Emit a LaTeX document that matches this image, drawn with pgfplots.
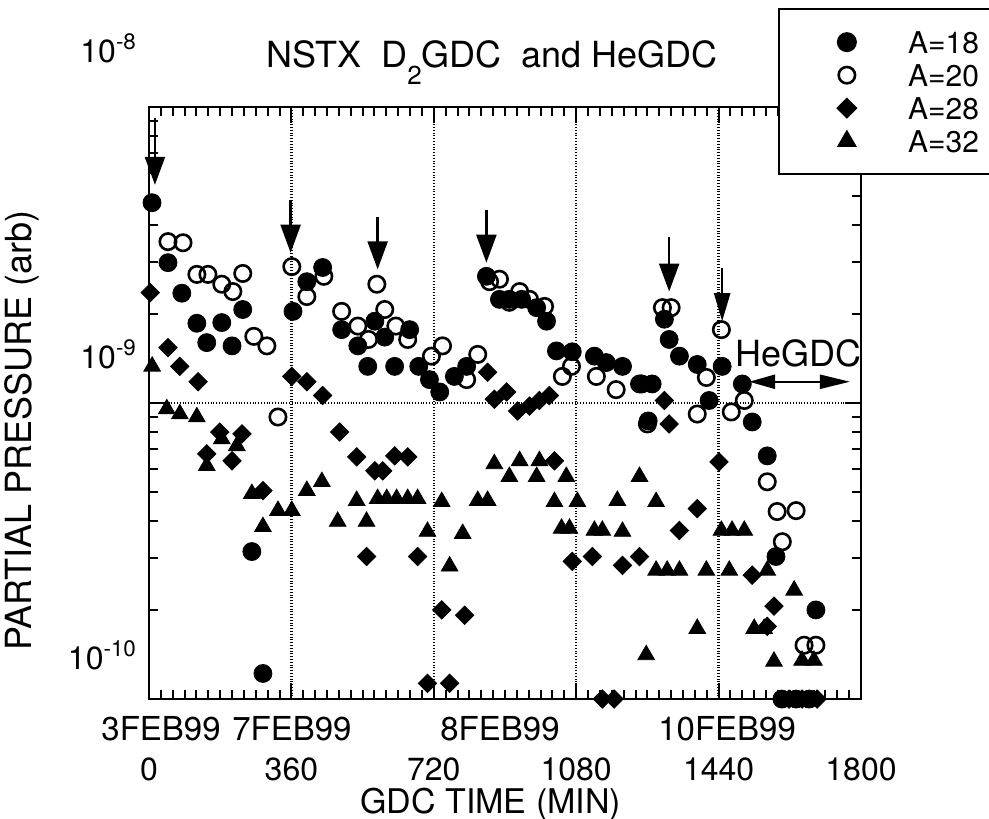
\documentclass[border=0pt]{standalone}
\usepackage{fontspec}
\setmainfont{TeX Gyre Heros}
\usepackage{pgfplots}
\usepackage{pgfplotstable}
\pgfplotsset{compat=1.18}
\usetikzlibrary{arrows.meta}

% A=18, filled circles
\pgfplotstableread{
x y
7.6 4.75e-9
48 2.98e-9
83 2.35e-9
121 1.86e-9
146 1.60e-9
184 1.87e-9
210 1.56e-9
237 2.07e-9
260 3.15e-10
288 1.22e-10
364 2.04e-9
399 2.57e-9
439 2.87e-9
487 1.77e-9
528 1.56e-9
553 1.33e-9
571 1.89e-9
596 1.67e-9
621 1.33e-9
659 1.77e-9
682 1.33e-9
709 1.20e-9
735 1.09e-9
772 1.23e-9
803 1.33e-9
853 2.68e-9
886 2.24e-9
911 2.24e-9
942 2.24e-9
980 2.10e-9
1005 1.89e-9
1030 1.50e-9
1070 1.49e-9
1126 1.44e-9
1156 1.37e-9
1197 1.33e-9
1240 1.16e-9
1272 1.16e-9
1262 8.7e-10
1303 1.92e-9
1315 1.64e-9
1341 1.44e-9
1386 1.35e-9
1416 1.02e-9
1449 1.33e-9
1500 1.16e-9
1525 8.63e-10
1563 6.63e-10
1585 3.03e-10
1686 2.0e-10
1600 1e-10
1636 1e-10
1669 1e-10
}\datA

% A=20, open circles
\pgfplotstableread{
x y
48 3.51e-9
86 3.48e-9
121 2.72e-9
149 2.72e-9
184 2.52e-9
212 2.38e-9
237 2.74e-9
265 1.68e-9
298 1.56e-9
326 8.97e-10
361 2.89e-9
399 2.29e-9
442 2.68e-9
487 2.04e-9
528 1.82e-9
555 1.64e-9
576 2.52e-9
596 2.07e-9
624 1.82e-9
654 1.64e-9
714 1.44e-9
742 1.56e-9
803 1.20e-9
831 1.46e-9
861 2.57e-9
886 2.62e-9
911 2.19e-9
937 2.38e-9
962 2.24e-9
1000 2.12e-9
1045 1.23e-9
1068 1.33e-9
1131 1.23e-9
1181 1.11e-9
1245 1.16e-9
1260 8.5e-10
1298 2.10e-9
1320 2.10e-9
1386 9.18e-10
1409 1.22e-9
1447 1.77e-9
1472 9.33e-10
1505 1.02e-9
1563 5.42e-10
1588 4.30e-10
1636 4.33e-10
1601 3.40e-10
1656 1.52e-10
1686 1.52e-10
}\datB

% A=28, diamonds
\pgfplotstableread{
x y
3 2.36e-9
48 1.54e-9
78 1.33e-9
124 1.18e-9
146 6.73e-10
179 7.98e-10
210 6.38e-10
235 7.87e-10
288 5.06e-10
361 1.23e-9
399 1.18e-9
439 1.06e-9
482 7.98e-10
525 6.58e-10
571 5.90e-10
591 5.90e-10
621 6.63e-10
654 6.58e-10
550 3.03e-10
679 3.03e-10
740 2.0e-10
798 1.92e-10
704 1.13e-10
760 1.13e-10
856 1.27e-9
873 1.03e-9
904 1.09e-9
932 9.4e-10
962 9.77e-10
987 1.02e-9
1012 1.06e-9
1025 6.38e-10
1070 2.92e-10
1121 3.03e-10
1197 2.83e-10
1240 3.03e-10
1146 1e-10
1176 1e-10
1303 1.02e-9
1315 8.5e-10
1341 3.71e-10
1386 4.40e-10
1441 6.33e-10
1525 2.62e-10
1580 2.06e-10
1563 1.76e-10
1618 1e-10
1651 1e-10
1689 1e-10
}\datC

% A=32, triangles
\pgfplotstableread{
x y
8 1.33e-9
45 9.55e-10
78 9.18e-10
121 8.97e-10
146 6.14e-10
184 7.56e-10
222 7.17e-10
260 4.94e-10
288 3.82e-10
326 4.33e-10
361 4.33e-10
399 5.06e-10
437 5.42e-10
477 3.98e-10
525 4.68e-10
550 3.98e-10
578 4.75e-10
601 4.75e-10
626 4.75e-10
654 4.75e-10
679 4.75e-10
704 3.68e-10
740 4.64e-10
760 2.81e-10
793 3.62e-10
831 4.68e-10
856 4.68e-10
873 6.23e-10
911 5.64e-10
937 6.38e-10
980 5.64e-10
987 6.38e-10
1025 4.64e-10
1055 5.64e-10
1043 3.77e-10
1063 3.77e-10
1083 4.64e-10
1126 3.71e-10
1146 3.71e-10
1184 4.68e-10
1197 3.68e-10
1240 5.64e-10
1282 4.64e-10
1282 2.72e-10
1310 2.72e-10
1341 2.72e-10
1257 1.41e-10
1386 1.73e-10
1409 2.72e-10
1447 3.71e-10
1474 3.71e-10
1505 3.71e-10
1467 2.72e-10
1530 1.73e-10
1555 1.73e-10
1563 2.72e-10
1631 2.33e-10
1580 1.34e-10
1651 1.35e-10
1681 1.35e-10
}\datD

\begin{document}
\begin{tikzpicture}[font=\fontsize{18}{21}\selectfont]
  \begin{axis}[
      scale only axis, width=356pt, height=296pt,
      clip mode=individual,
      xmin=0, xmax=1800, ymin=1e-10, ymax=1e-8, ymode=log,
      xtick={0,360,...,1800}, xticklabels={0,360,720,1080,1440,1800},
      minor x tick num=11,
      ytick={1e-10,1e-9,1e-8}, yticklabels={},
      xmajorgrids, ymajorgrids,
      major grid style={densely dotted, line width=1.2pt, black},
      axis line style={line width=1.3pt},
      tick style={line width=1pt, black},
      major tick length=8pt, minor tick length=4.5pt,
      xticklabel style={anchor=base, yshift=-40.5pt, inner sep=0pt, font=\fontsize{16}{19}\selectfont},
      xlabel={GDC TIME (MIN)},
      xlabel style={at={(axis description cs:0.48,-0.193)}, anchor=base, inner sep=0pt, font=\fontsize{17}{20}\selectfont},
      ylabel={PARTIAL PRESSURE (arb)},
      ylabel style={at={(axis description cs:-0.178,0.454)}, anchor=center},
      legend style={at={(axis description cs:0.883,1.167)}, anchor=north west,
        draw=black, line width=1pt, inner xsep=29.5pt, inner ysep=11pt,
        font=\fontsize{15}{18}\selectfont,
        row sep=5.5pt, nodes={inner sep=0pt, text height=11pt, text depth=0pt},
        /tikz/every odd column/.append style={column sep=26pt}},
      legend cell align=left,
    ]
    \addplot[only marks, mark=*, mark size=4.5pt, mark options={fill=black, draw=black}] table {\datA};
    \addplot[only marks, mark=o, mark size=4.1pt, mark options={line width=1.3pt, draw=black}] table {\datB};
    \addplot[only marks, mark=diamond*, mark size=4.6pt, mark options={fill=black, draw=black, xscale=1.33}] table {\datC};
    \addplot[only marks, mark=triangle*, mark size=4.8pt, mark options={fill=black, draw=black}] table {\datD};
    \legend{A=18, A=20, A=28, A=32}

    % arrows marking the start of each discharge
    \draw[line width=1.2pt, -{Triangle[length=14pt, width=10pt]}] (axis cs:15,9.18e-9) -- (axis cs:15,5.46e-9);
    \draw[line width=1.2pt, -{Triangle[length=14pt, width=10pt]}] (axis cs:358,4.86e-9) -- (axis cs:358,3.22e-9);
    \draw[line width=1.2pt, -{Triangle[length=14pt, width=10pt]}] (axis cs:578,4.26e-9) -- (axis cs:578,2.83e-9);
    \draw[line width=1.2pt, -{Triangle[length=14pt, width=10pt]}] (axis cs:853,4.50e-9) -- (axis cs:853,2.98e-9);
    \draw[line width=1.2pt, -{Triangle[length=14pt, width=10pt]}] (axis cs:1315,3.65e-9) -- (axis cs:1315,2.38e-9);
    \draw[line width=1.2pt, -{Triangle[length=14pt, width=8pt]}] (axis cs:1449,2.87e-9) -- (axis cs:1449,1.89e-9);
    \draw[line width=1.1pt, {Triangle[length=13pt, width=7pt]}-{Triangle[length=15pt, width=7pt]}] (axis cs:1517,1.18e-9) -- (axis cs:1772,1.18e-9);
    \node at (axis cs:1643,1.47e-9) {HeGDC};

    % title and labels placed like the original
    \node[anchor=base] at (axis description cs:0.482,1.066) {NSTX\ \ D\raisebox{-0.9ex}{\fontsize{13}{13}\selectfont 2}GDC\ \ and HeGDC};
    \begin{scope}[font=\fontsize{16}{19}\selectfont]
      \node[anchor=base east] at (axis description cs:-0.007,1.076) {10\textsuperscript{-8}};
      \node[anchor=base east] at (axis description cs:-0.007,0.559) {10\textsuperscript{-9}};
      \node[anchor=base east] at (axis description cs:-0.007,0.0507) {10\textsuperscript{-10}};
    \end{scope}
    \begin{scope}[font=\fontsize{16.5}{19}\selectfont]
      \node[anchor=base] at (axis description cs:0.0169,-0.0693) {3FEB99};
      \node[anchor=base] at (axis description cs:0.2008,-0.0693) {7FEB99};
      \node[anchor=base] at (axis description cs:0.493,-0.0693) {8FEB99};
      \node[anchor=base] at (axis description cs:0.812,-0.0693) {10FEB99};
    \end{scope}
  \end{axis}
  \pgfresetboundingbox
  \path[use as bounding box] (-74.5pt,-59.5pt) rectangle (420pt,349.5pt);
\end{tikzpicture}
\end{document}
